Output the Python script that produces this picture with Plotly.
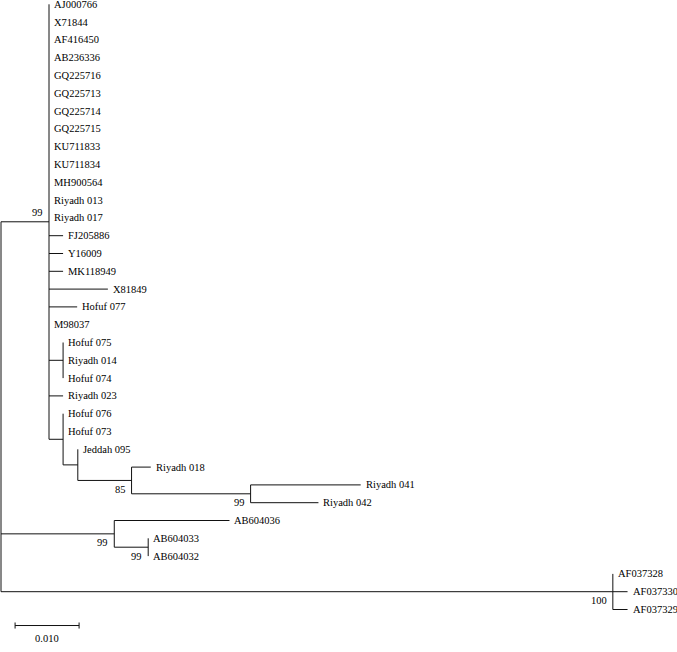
import plotly.graph_objects as go

# ---------------- data ----------------
# internal nodes and their children (in display order)
node_names = ["root", "n_main", "n_hofuf3", "n_076", "n_jed", "n_018", "n_041",
              "n_ab", "n_ab33", "n_af"]
node_children = [
    ["n_main", "n_ab", "n_af"],
    ["AJ000766", "X71844", "AF416450", "AB236336", "GQ225716", "GQ225713",
     "GQ225714", "GQ225715", "KU711833", "KU711834", "MH900564", "Riyadh 013",
     "Riyadh 017", "FJ205886", "Y16009", "MK118949", "X81849", "Hofuf 077",
     "M98037", "n_hofuf3", "Riyadh 023", "n_076"],
    ["Hofuf 075", "Riyadh 014", "Hofuf 074"],
    ["Hofuf 076", "Hofuf 073", "n_jed"],
    ["Jeddah 095", "n_018"],
    ["Riyadh 018", "n_041"],
    ["Riyadh 041", "Riyadh 042"],
    ["AB604036", "n_ab33"],
    ["AB604033", "AB604032"],
    ["AF037328", "AF037330", "AF037329"],
]
# branch lengths (substitutions per site)
branch_names = ["n_main", "FJ205886", "Y16009", "MK118949", "X81849", "Hofuf 077",
                "n_hofuf3", "Riyadh 023", "n_076", "n_jed", "n_018", "Riyadh 018",
                "n_041", "Riyadh 041", "Riyadh 042", "n_ab", "AB604036", "n_ab33",
                "n_af", "AF037330", "AF037329"]
branch_lengths = [0.0075, 0.0022, 0.0022, 0.0022, 0.0092, 0.0044,
                  0.0022, 0.0022, 0.0022, 0.0023, 0.0084, 0.0030,
                  0.0186, 0.0172, 0.0106, 0.0177, 0.0180, 0.0053,
                  0.0956, 0.0023, 0.0023]
# bootstrap support
boot_nodes = ["n_main", "n_018", "n_041", "n_ab", "n_ab33", "n_af"]
boot_values = ["99", "85", "99", "99", "99", "100"]
boot_above = [True, False, False, False, False, False]

scale_len = 0.010
scale_label = "0.010"

# ---------------- layout computation ----------------
children = dict(zip(node_names, node_children))
blen = dict(zip(branch_names, branch_lengths))
pos = {}
leaf_counter = [0]


def place(name, x):
    if name in children:
        ys = []
        for c in children[name]:
            cx = x + blen.get(c, 0.0)
            place(c, cx)
            ys.append(pos[c][1])
        pos[name] = (x, (min(ys) + max(ys)) / 2.0)
    else:
        pos[name] = (x, leaf_counter[0])
        leaf_counter[0] += 1


place("root", 0.0)

xs, ys = [], []
for name in node_names:
    px, py = pos[name]
    cys = [pos[c][1] for c in children[name]]
    xs += [px, px, None]
    ys += [min(cys), max(cys), None]
    for c in children[name]:
        cx, cy = pos[c]
        if cx > px:
            xs += [px, cx, None]
            ys += [cy, cy, None]

# scale bar
sb_x0 = 0.0022
sb_y = 34.9
tick = 0.17
xs += [sb_x0, sb_x0 + scale_len, None, sb_x0, sb_x0, None,
       sb_x0 + scale_len, sb_x0 + scale_len, None]
ys += [sb_y, sb_y, None, sb_y - tick, sb_y + tick, None, sb_y - tick, sb_y + tick, None]

FONT = dict(family="Liberation Serif, Times New Roman, serif", size=10.5, color="black")

fig = go.Figure()
fig.add_trace(go.Scatter(x=xs, y=ys, mode="lines",
                         line=dict(color="#111111", width=1),
                         hoverinfo="skip", showlegend=False))

annotations = []
for name, (px, py) in pos.items():
    if name in children:
        continue
    annotations.append(dict(x=px, y=py, text=name, showarrow=False,
                            xanchor="left", yanchor="middle", xshift=3,
                            font=FONT))
for n, v, above in zip(boot_nodes, boot_values, boot_above):
    px, py = pos[n]
    annotations.append(dict(x=px, y=py, text=v, showarrow=False,
                            xanchor="right", yanchor="middle", xshift=-4,
                            yshift=9 if above else -9, font=FONT))
annotations.append(dict(x=sb_x0 + scale_len / 2, y=sb_y, text=scale_label,
                        showarrow=False, xanchor="center", yanchor="middle",
                        yshift=-13, font=FONT))

W, H = 677, 652
px_per_unit = 6400.0
x0 = -1.0 / px_per_unit
row = 17.8
y_top = 4.3
fig.update_layout(
    width=W, height=H,
    margin=dict(l=0, r=0, t=0, b=0),
    paper_bgcolor="white", plot_bgcolor="white",
    annotations=annotations,
    xaxis=dict(range=[x0, x0 + W / px_per_unit], visible=False, fixedrange=True),
    yaxis=dict(range=[(H - y_top) / row, -y_top / row], visible=False, fixedrange=True),
)
fig.write_html("out.html", config={"displayModeBar": False},
               post_script="document.body.style.margin='0';document.body.style.padding='0';document.body.style.overflow='hidden';")
